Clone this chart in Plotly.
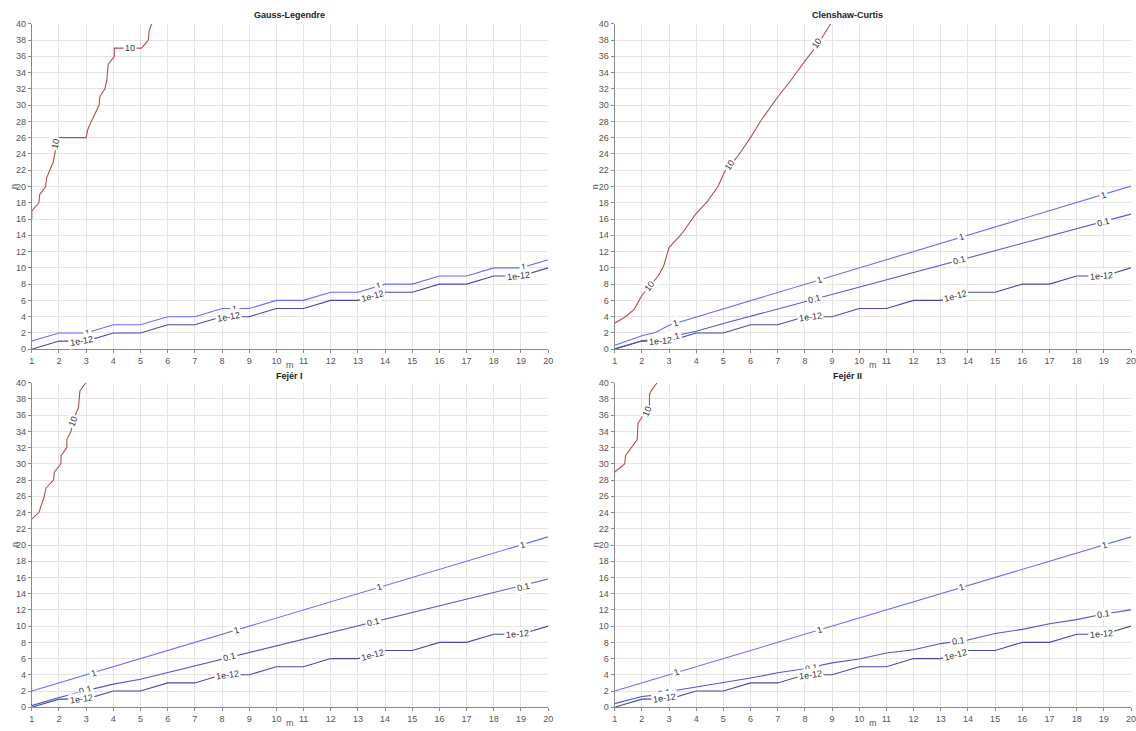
import plotly.graph_objects as go

W, H = 1136, 731

# ---------------- data ----------------
M_TICKS = list(range(1, 21))
N_TICKS = list(range(0, 41, 2))

STAIR_M = [1, 2, 3, 4, 5, 6, 7, 8, 9, 10, 11, 12, 13, 14, 15, 16, 17, 18, 19, 20]

# Gauss-Legendre
GL_10_M = [1, 1, 1.26, 1.29, 1.51, 1.54, 1.66, 1.79, 1.9, 2, 3, 3.06, 3.19, 3.48, 3.5, 3.69, 3.76, 3.81, 4.04, 4.04, 5.04, 5.29, 5.31, 5.41]
GL_10_N = [16, 17, 18, 19, 20, 21, 22, 23, 25, 26, 26, 27, 28, 30, 31, 32, 33, 35, 36, 37, 37, 38, 39, 40]
GL_1_N = [1, 2, 2, 3, 3, 4, 4, 5, 5, 6, 6, 7, 7, 8, 8, 9, 9, 10, 10, 11]
GL_E12_N = [0, 1, 1, 2, 2, 3, 3, 4, 4, 5, 5, 6, 6, 7, 7, 8, 8, 9, 9, 10]

# Clenshaw-Curtis
CC_10_M = [1, 1.4, 1.72, 2, 2.3, 2.6, 2.8, 3.0, 3.45, 3.98, 4.4, 4.8, 5.05, 5.5, 6.0, 6.4, 7.0, 7.45, 8.0, 8.5, 8.95]
CC_10_N = [3.2, 4.0, 4.9, 6.6, 7.8, 9.0, 10.2, 12.5, 14.1, 16.6, 18.1, 20.0, 21.8, 23.6, 26.0, 28.2, 31.0, 32.9, 35.4, 37.6, 40]
CC_1_M = [1, 2, 2.5, 3, 20]
CC_1_N = [0.5, 1.65, 2.05, 2.95, 20.05]
CC_01_M = [1, 2, 3, 4, 5, 20]
CC_01_N = [0.05, 1.05, 1.5, 2.2, 3.15, 16.6]
CC_E12_N = [0, 1, 1, 2, 2, 3, 3, 4, 4, 5, 5, 6, 6, 7, 7, 8, 8, 9, 9, 10]

# Fejer I
F1_10_M = [1, 1.26, 1.46, 1.52, 1.8, 1.83, 2.07, 2.08, 2.29, 2.29, 2.44, 2.6, 2.72, 2.77, 2.99]
F1_10_N = [23.2, 24, 26, 27, 28, 29, 30, 31, 32, 33, 34, 36, 37, 39, 40]
F1_1_M = [1, 20]
F1_1_N = [2, 21]
F1_01_M = [1, 2, 3, 4, 5, 20]
F1_01_N = [0.2, 1.2, 2.05, 2.85, 3.45, 15.8]
F1_E12_N = [0, 1, 1, 2, 2, 3, 3, 4, 4, 5, 5, 6, 6, 7, 7, 8, 8, 9, 9, 10]

# Fejer II
F2_10_M = [1, 1.37, 1.4, 1.83, 1.86, 2.05, 2.28, 2.28, 2.34, 2.56]
F2_10_N = [29, 30, 31, 33, 35, 36, 37, 38.5, 39, 40]
F2_1_M = [1, 20]
F2_1_N = [2, 21]
F2_01_M = [1, 2, 2.5, 3, 4, 5, 6, 7, 8, 9, 10, 11, 12, 13, 14, 15, 16, 17, 18, 19, 20]
F2_01_N = [0.45, 1.32, 1.5, 1.95, 2.5, 3.04, 3.6, 4.25, 4.75, 5.47, 5.95, 6.68, 7.08, 7.85, 8.3, 9.1, 9.6, 10.3, 10.8, 11.5, 12.0]
F2_E12_N = [0, 1, 1, 2, 2, 3, 3, 4, 4, 5, 5, 6, 6, 7, 7, 8, 8, 9, 9, 10]

# contour labels: (text, m, n, angle)
GL_LABELS = [("10", 1.88, 25.2, -78), ("10", 4.62, 37, 0),
             ("1", 3.05, 2.05, -15), ("1", 8.45, 5.0, 0), ("1", 13.75, 7.8, -15), ("1", 19.1, 10.08, -8),
             ("1e-12", 2.83, 1.05, -10), ("1e-12", 8.22, 4.0, -10), ("1e-12", 13.55, 6.55, -15), ("1e-12", 18.9, 9.05, -6)]
CC_LABELS = [("10", 2.28, 7.8, -52), ("10", 5.22, 22.7, -55), ("10", 8.45, 37.6, -56),
             ("1", 3.25, 3.2, -17), ("1", 8.52, 8.55, -17), ("1", 13.75, 13.8, -17), ("1", 19.0, 19.0, -17),
             ("0.1", 3.15, 1.55, -15), ("0.1", 8.35, 6.2, -15), ("0.1", 13.7, 10.95, -15), ("0.1", 19.0, 15.65, -15),
             ("1e-12", 2.7, 1.0, -5), ("1e-12", 8.2, 4.0, -8), ("1e-12", 13.55, 6.5, -15), ("1e-12", 18.9, 9.05, -5)]
F1_LABELS = [("10", 2.5, 35.2, -68),
             ("1", 3.28, 4.28, -17), ("1", 8.54, 9.54, -17), ("1", 13.78, 14.78, -17), ("1", 19.06, 20.05, -17),
             ("0.1", 2.96, 2.1, -14), ("0.1", 8.26, 6.2, -14), ("0.1", 13.58, 10.45, -14), ("0.1", 19.1, 14.85, -14),
             ("1e-12", 2.83, 1.0, -8), ("1e-12", 8.21, 4.0, -8), ("1e-12", 13.54, 6.5, -15), ("1e-12", 18.86, 9.05, -5)]
F2_LABELS = [("10", 2.2, 36.5, -65),
             ("1", 3.29, 4.3, -17), ("1", 8.52, 9.55, -17), ("1", 13.78, 14.8, -17), ("1", 19.03, 20.03, -17),
             ("0.1", 2.85, 1.75, -10), ("0.1", 8.25, 4.85, -8), ("0.1", 13.64, 8.15, -8), ("0.1", 19.0, 11.52, -8),
             ("1e-12", 2.85, 1.1, -8), ("1e-12", 8.21, 4.0, -8), ("1e-12", 13.53, 6.5, -15), ("1e-12", 18.9, 9.05, -5)]

TITLES = ["Gauss-Legendre", "Clenshaw-Curtis", "Fejér I", "Fejér II"]

# ---------------- styling ----------------
C10 = "#b84c4c"
C1 = "#6b6bff"
C01 = "#5656cc"
CE12 = "#4a4aa6"
FONT = "Liberation Sans, Arial, sans-serif"

X_DOM = [[29 / W, 549 / W], [616 / W, 1136 / W]]
Y_DOM = [[(H - 349) / H, (H - 19) / H], [(H - 712) / H, (H - 383) / H]]

panels = [
    dict(lines=[(GL_10_M, GL_10_N, C10), (STAIR_M, GL_1_N, C1), (STAIR_M, GL_E12_N, CE12)], labels=GL_LABELS),
    dict(lines=[(CC_10_M, CC_10_N, C10), (CC_1_M, CC_1_N, C1), (CC_01_M, CC_01_N, C01), (STAIR_M, CC_E12_N, CE12)], labels=CC_LABELS),
    dict(lines=[(F1_10_M, F1_10_N, C10), (F1_1_M, F1_1_N, C1), (F1_01_M, F1_01_N, C01), (STAIR_M, F1_E12_N, CE12)], labels=F1_LABELS),
    dict(lines=[(F2_10_M, F2_10_N, C10), (F2_1_M, F2_1_N, C1), (F2_01_M, F2_01_N, C01), (STAIR_M, F2_E12_N, CE12)], labels=F2_LABELS),
]

fig = go.Figure()
annotations = []
layout = dict(
    width=W, height=H, margin=dict(l=0, r=0, t=0, b=0),
    paper_bgcolor="white", plot_bgcolor="white", showlegend=False,
    font=dict(family=FONT, size=9, color="#555555"),
)

title_pos = [(289, 10), (850, 10), (289, 376), (850, 376)]
ylab_x = [11.5, 597]
xlab_y = [365, 728]
ycenter = [184, 547]
xcenter = [289, 876]

for i, p in enumerate(panels):
    col, row = i % 2, i // 2
    k = "" if i == 0 else str(i + 1)
    xa, ya = "x" + k, "y" + k
    for mx, ny, c in p["lines"]:
        fig.add_trace(go.Scatter(x=mx, y=ny, mode="lines", line=dict(color=c, width=1.1),
                                 hoverinfo="skip", xaxis=xa, yaxis=ya))
    for txt, m, n, ang in p["labels"]:
        annotations.append(dict(text=txt, x=m, y=n, xref=xa, yref=ya, showarrow=False,
                                textangle=ang, bgcolor="white", borderpad=1,
                                font=dict(family=FONT, size=9, color="#333333")))
    layout["xaxis" + k] = dict(
        domain=X_DOM[col], range=[1, 20], anchor=ya, tickvals=M_TICKS, ticktext=[str(v) for v in M_TICKS],
        showgrid=True, gridcolor="#e4e4e4", gridwidth=1, zeroline=False,
        showline=True, linecolor="#8a8a8a", linewidth=1, ticks="outside", ticklen=3, tickcolor="#8a8a8a",
        tickfont=dict(family=FONT, size=9, color="#555555"), fixedrange=True, ticklabeloverflow="allow",
    )
    layout["yaxis" + k] = dict(
        domain=Y_DOM[row], range=[0, 40], anchor=xa, tickvals=N_TICKS, ticktext=[str(v) for v in N_TICKS],
        showgrid=True, gridcolor="#e4e4e4", gridwidth=1, zeroline=False,
        showline=True, linecolor="#8a8a8a", linewidth=1, ticks="outside", ticklen=3, tickcolor="#8a8a8a",
        tickfont=dict(family=FONT, size=9, color="#555555"), fixedrange=True, ticklabeloverflow="allow",
    )
    tx, ty = title_pos[i]
    annotations.append(dict(text="<b>" + TITLES[i] + "</b>", x=tx / W, y=1 - ty / H, xref="paper", yref="paper",
                            showarrow=False, xanchor="center", yanchor="middle",
                            font=dict(family=FONT, size=9, color="#222222")))
    annotations.append(dict(text="n", x=ylab_x[col] / W, y=1 - ycenter[row] / H, xref="paper", yref="paper",
                            showarrow=False, textangle=-90, xanchor="center", yanchor="middle",
                            font=dict(family=FONT, size=9, color="#555555")))
    annotations.append(dict(text="m", x=xcenter[col] / W, y=1 - xlab_y[row] / H, xref="paper", yref="paper",
                            showarrow=False, xanchor="center", yanchor="middle",
                            font=dict(family=FONT, size=9, color="#555555")))

layout["annotations"] = annotations
fig.update_layout(**layout)

fig.write_html("out.html", config={"displayModeBar": False},
               post_script="document.body.style.margin='0';document.body.style.overflow='hidden';")
